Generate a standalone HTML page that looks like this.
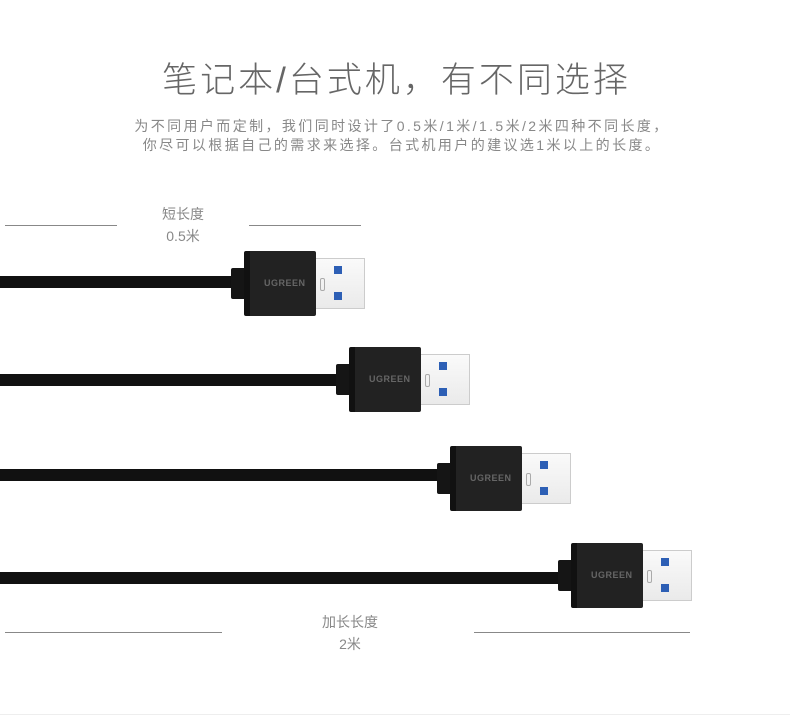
<!DOCTYPE html>
<html><head><meta charset="utf-8"><style>
body{margin:0;width:790px;height:717px;background:#fff;position:relative;overflow:hidden;font-family:"Liberation Sans","Noto Sans CJK SC",sans-serif}
.a{position:absolute}
.t{position:absolute;left:0;width:790px;text-align:center;box-sizing:border-box}
.ln{position:absolute;height:1px;background:#888}
.lab{position:absolute;text-align:center;color:#888;font-size:14px;line-height:22px;width:120px}
.c{position:absolute;width:130px;height:66px}
.cab{position:absolute;height:12px;left:0;background:#111;border-radius:0 2px 2px 0}
.rel{position:absolute;left:-13px;top:17px;width:14px;height:31px;background:#151515;border-radius:2px 0 0 2px}
.body{position:absolute;left:0;top:0;width:72px;height:65px;background:#222;border-left:6px solid #111;box-sizing:border-box;border-radius:2px}
.logo{position:absolute;left:14px;top:27px;font-size:9px;color:#666;letter-spacing:0.5px;font-weight:bold}
.met{position:absolute;left:72px;top:7px;width:49px;height:51px;background:linear-gradient(#fafafa,#eaeaea);border:1px solid #ccc;border-left:none;box-sizing:border-box}
.bl{position:absolute;left:18px;width:8px;height:8px;background:#2d5fb5}
.sl{position:absolute;left:4px;top:19px;width:3px;height:11px;border:1px solid #aaa;border-radius:2px}
</style></head><body>
<div class="t" style="top:52px;font-size:35px;color:#666;font-weight:300;letter-spacing:3px;padding-left:3px">笔记本/台式机，有不同选择</div>
<div class="t" style="top:117px;font-size:14px;color:#888;line-height:19px;letter-spacing:2.4px;padding-left:14px">为不同用户而定制，我们同时设计了0.5米/1米/1.5米/2米四种不同长度，<br>你尽可以根据自己的需求来选择。台式机用户的建议选1米以上的长度。</div>

<div class="ln" style="left:5px;top:225px;width:112px"></div>
<div class="ln" style="left:249px;top:225px;width:112px"></div>
<div class="lab" style="left:123px;top:203px">短长度<br>0.5米</div>

<div class="ln" style="left:5px;top:632px;width:217px"></div>
<div class="ln" style="left:474px;top:632px;width:216px"></div>
<div class="lab" style="left:290px;top:611px">加长长度<br>2米</div>

<div class="cab" style="top:276px;width:240px"></div>
<div class="c" style="left:244px;top:251px"><div class="rel"></div><div class="body"><span class="logo">UGREEN</span></div><div class="met"><div class="sl"></div><div class="bl" style="top:7px"></div><div class="bl" style="top:33px"></div></div></div>

<div class="cab" style="top:374px;width:345px"></div>
<div class="c" style="left:349px;top:347px"><div class="rel"></div><div class="body"><span class="logo">UGREEN</span></div><div class="met"><div class="sl"></div><div class="bl" style="top:7px"></div><div class="bl" style="top:33px"></div></div></div>

<div class="cab" style="top:469px;width:446px"></div>
<div class="c" style="left:450px;top:446px"><div class="rel"></div><div class="body"><span class="logo">UGREEN</span></div><div class="met"><div class="sl"></div><div class="bl" style="top:7px"></div><div class="bl" style="top:33px"></div></div></div>

<div class="cab" style="top:572px;width:567px"></div>
<div class="c" style="left:571px;top:543px"><div class="rel"></div><div class="body"><span class="logo">UGREEN</span></div><div class="met"><div class="sl"></div><div class="bl" style="top:7px"></div><div class="bl" style="top:33px"></div></div></div>

<div class="a" style="left:0;top:714px;width:790px;height:1px;background:#eee"></div>
</body></html>
